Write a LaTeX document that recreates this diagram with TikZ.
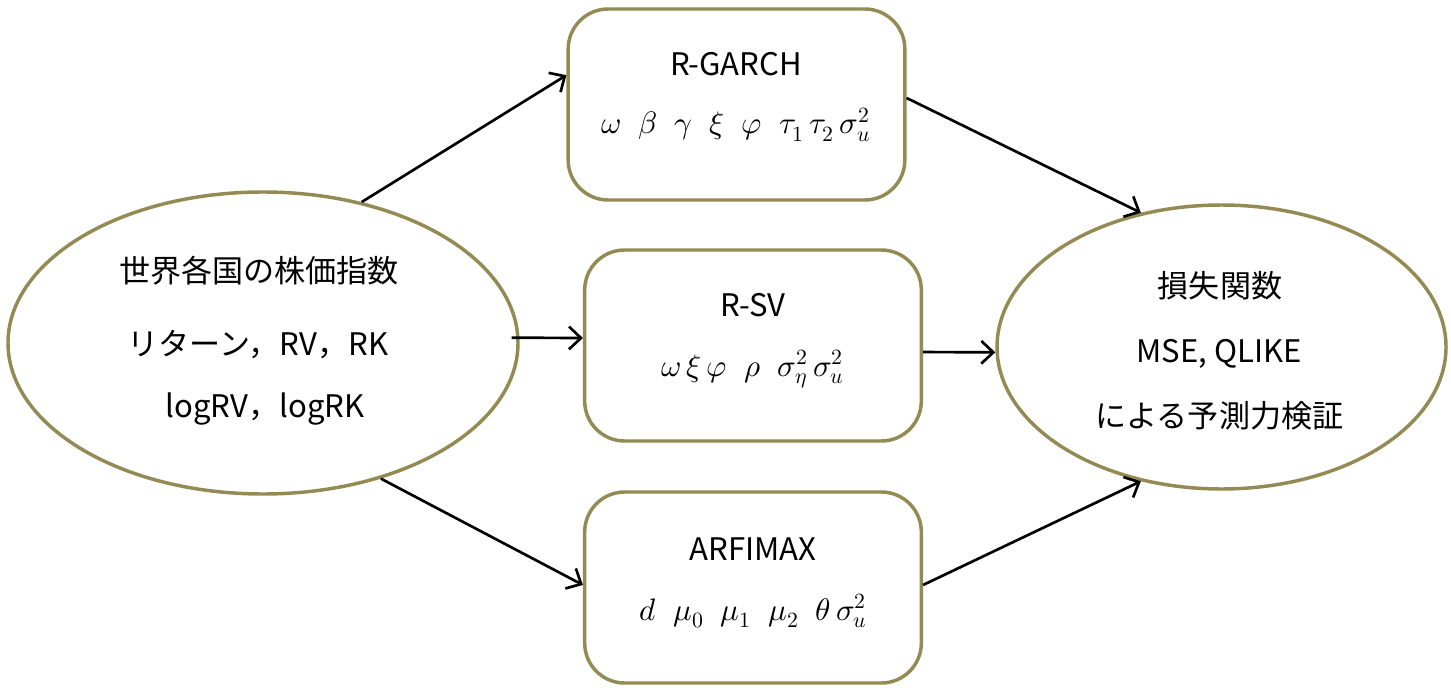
\documentclass[tikz,border=0pt]{standalone}
\usepackage{unicode-math}
\setmainfont{Noto Sans CJK JP}
\setmathfont{latinmodern-math.otf}
\usetikzlibrary{shapes.geometric,arrows.meta}
\definecolor{olive}{HTML}{948A54}
\tikzset{
  frame/.style={draw=olive, line width=2.6pt, fill=white, inner sep=0pt},
  modelbox/.style={frame, rectangle, rounded corners=30pt, minimum width=252.5pt, minimum height=143.25pt},
  oval/.style={frame, ellipse},
  lbl/.style={anchor=base, inner sep=0pt, font=\fontsize{23.3}{28}\selectfont},
  conn/.style={line width=2pt, -{Straight Barb[length=9pt,width=17pt,line width=2pt]}},
}
\begin{document}
\begin{tikzpicture}[x=0.75pt,y=-0.75pt]
\useasboundingbox (0,0) rectangle (1451,688);
% shapes
\node[oval, minimum width=382.5pt, minimum height=226.5pt] (L) at (263,343) {};
\node[oval, minimum width=336.75pt, minimum height=213pt] (R) at (1221.5,347) {};
\node[modelbox] (G) at (736.5,104.5) {};
\node[modelbox] (S) at (753,345.5) {};
\node[modelbox] (A) at (753,587.5) {};
% texts
\node[lbl] (l1) at (259,282) {世界各国の株価指数};
\node[lbl] (l2) at (258,355) {リターン，RV，RK};
\node[lbl] (l3) at (265,417) {logRV，logRK};
\node[lbl] (r1) at (1220,297) {損失関数};
\node[lbl] (r2) at (1219,362) {MSE, QLIKE};
\node[lbl] (r3) at (1219.5,427) {による予測力検証};
\node[lbl] (g1) at (736,76) {R-GARCH};
\node[lbl] (g2) at (736,134) {$\omega\;\;\beta\;\;\gamma\;\;\xi\;\;\varphi\;\;\tau_1\,\tau_2\,\sigma_u^2$};
\node[lbl] (s1) at (753,316) {R-SV};
\node[lbl] (s2) at (753,376) {$\omega\,\xi\,\varphi\;\;\rho\;\;\sigma_\eta^2\,\sigma_u^2$};
\node[lbl] (a1) at (753,560) {ARFIMAX};
\node[lbl] (a2) at (753,620) {$d\;\;\mu_0\;\;\mu_1\;\;\mu_2\;\;\theta\,\sigma_u^2$};
% connectors
\draw[conn] (L.55) -- ([yshift=22pt]G.west);
\draw[conn] ([yshift=4pt,xshift=-6pt]L.east) -- ([yshift=5.6pt]S.west);
\draw[conn] (L.-49.6) -- ([yshift=1.9pt]A.west);
\draw[conn] ([yshift=4.9pt]G.east) -- (R.121.8);
\draw[conn] ([yshift=-4.9pt]S.east) -- ([yshift=-4pt]R.west);
\draw[conn] ([yshift=1.9pt]A.east) -- (R.239);
\end{tikzpicture}
\end{document}
